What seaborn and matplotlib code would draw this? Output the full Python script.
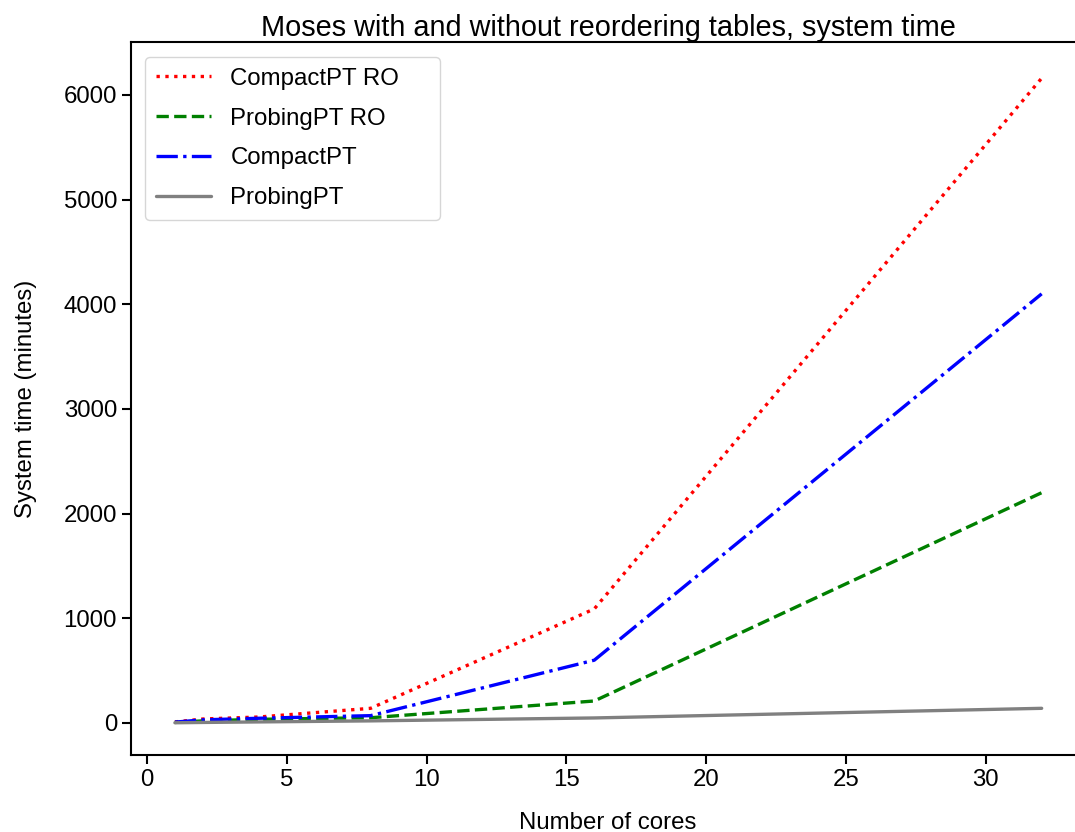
import pandas as pd
import matplotlib.pyplot as plt
import seaborn as sns

# ======================================
# DATA
# ======================================

cores = [1, 2, 4, 8, 16, 32]

compact_ro = [10, 38, 57, 140, 1090, 6160]
probing_ro = [5, 20, 35, 50, 210, 2200]
compact = [8, 30, 45, 70, 600, 4100]
probing = [2, 5, 10, 20, 48, 140]

series_names = ["CompactPT RO", "ProbingPT RO", "CompactPT", "ProbingPT"]
series_colors = ["red", "green", "blue", "gray"]
series_styles = [":", "--", "-.", "-"]

df = pd.DataFrame({
    "cores": cores * 4,
    "time": compact_ro + probing_ro + compact + probing,
    "system": sum([[n] * len(cores) for n in series_names], []),
})

# ======================================
# PLOT
# ======================================

sns.set_style("ticks")
plt.rcParams["font.family"] = ["Liberation Sans", "DejaVu Sans"]
plt.rcParams["text.color"] = "black"
plt.rcParams["axes.labelcolor"] = "black"
plt.rcParams["xtick.color"] = "black"
plt.rcParams["ytick.color"] = "black"

fs = 17.3

fig = plt.figure(figsize=(10.75, 8.32), dpi=100)
ax = fig.add_axes([131 / 1075, 77 / 832, 954 / 1075, 713 / 832])

for name, color, ls in zip(series_names, series_colors, series_styles):
    sub = df[df["system"] == name]
    sns.lineplot(data=sub, x="cores", y="time", color=color, linestyle=ls,
                 linewidth=2.4, label=name, ax=ax)

ax.set_xlim(-0.57, 33.55)
ax.set_ylim(-306, 6506)
ax.set_xticks([0, 5, 10, 15, 20, 25, 30])
ax.set_yticks([0, 1000, 2000, 3000, 4000, 5000, 6000])

ax.set_title("Moses with and without reordering tables, system time", fontsize=fs * 1.2, pad=3)
ax.set_xlabel("Number of cores", fontsize=fs, labelpad=15)
ax.set_ylabel("System time (minutes)", fontsize=fs, labelpad=19.5)
ax.tick_params(axis="both", labelsize=fs, length=6.5, width=1.5, color="black")
for s in ax.spines.values():
    s.set_linewidth(1.5)
    s.set_color("black")

# legend box is wider than its contents in the reference
leg = ax.legend(loc="upper left", bbox_to_anchor=(14 / 954, 0.5, 295 / 954, (755 - 57) / 713 - 0.5),
                mode="expand", borderaxespad=0, fontsize=fs, handlelength=2.3,
                labelspacing=0.74, borderpad=0.45, frameon=True, fancybox=True)
leg.get_frame().set_edgecolor("#cccccc")

fig.savefig("out.png", dpi=100)
